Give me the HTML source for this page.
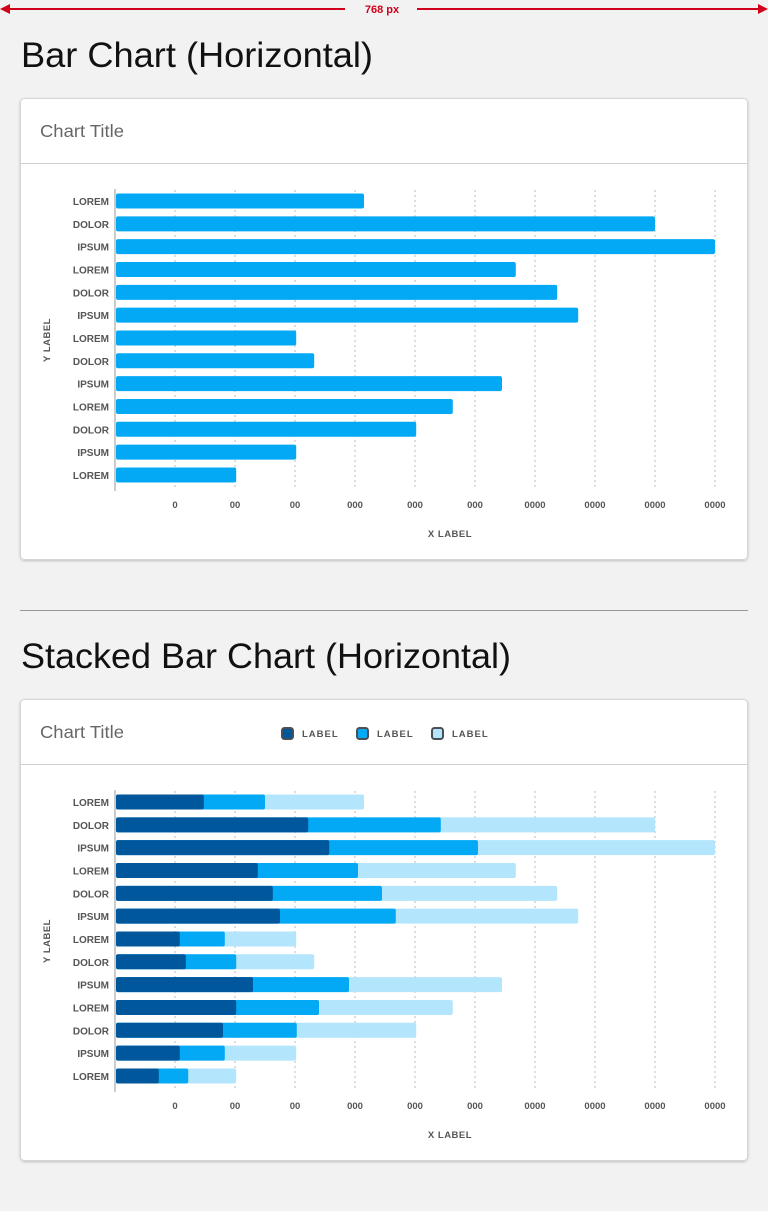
<!DOCTYPE html>
<html><head><meta charset="utf-8"><style>
html,body{margin:0;padding:0;background:#f2f2f2;}
svg{display:block;font-family:"Liberation Sans",sans-serif;}
</style></head><body>
<svg id="s" width="768" height="1211" viewBox="0 0 768 1211" xmlns="http://www.w3.org/2000/svg">
<defs><filter id="sh" x="-5%" y="-5%" width="110%" height="110%"><feDropShadow dx="0" dy="1" stdDeviation="1.2" flood-color="#000" flood-opacity="0.22"/></filter></defs>
<g>
<line x1="6" y1="9" x2="345" y2="9" stroke="#d0021b" stroke-width="2"/>
<line x1="417" y1="9" x2="762" y2="9" stroke="#d0021b" stroke-width="2"/>
<polygon points="0,9 10,4 10,14" fill="#d0021b"/>
<polygon points="768,9 758,4 758,14" fill="#d0021b"/>
<text x="382" y="13" text-anchor="middle" font-size="11" font-weight="bold" fill="#d0021b">768 px</text>
</g>
<text x="21" y="67" font-size="35" fill="#111" textLength="352" lengthAdjust="spacingAndGlyphs">Bar Chart (Horizontal)</text>
<line x1="20" y1="610.5" x2="748" y2="610.5" stroke="#999" stroke-width="1"/>
<text x="21" y="668" font-size="35" fill="#111" textLength="490" lengthAdjust="spacingAndGlyphs">Stacked Bar Chart (Horizontal)</text>
<g id="c1"></g>
<g id="c2"></g>
</svg>
<script>
const categories = ["LOREM","DOLOR","IPSUM","LOREM","DOLOR","IPSUM","LOREM","DOLOR","IPSUM","LOREM","DOLOR","IPSUM","LOREM"];
const barValues = [4.15,9.0,10,6.68,7.37,7.72,3.02,3.32,6.45,5.63,5.02,3.02,2.02];
const stackA = [1.48,3.22,3.57,2.38,2.63,2.75,1.08,1.18,2.3,2.02,1.8,1.08,0.73];
const stackB = [1.02,2.21,2.48,1.67,1.82,1.93,0.75,0.84,1.6,1.38,1.23,0.75,0.49];
const stackC = [1.65,3.57,3.95,2.63,2.92,3.04,1.19,1.3,2.55,2.23,1.99,1.19,0.8];
const tickLabels = ["0","00","00","000","000","000","0000","0000","0000","0000"];
const seriesNames = ["LABEL","LABEL","LABEL"];
const colors = ["#01579b","#03a9f4","#b3e5fc"];
const NS = "http://www.w3.org/2000/svg";
function el(tag, attrs, parent, txt){const e=document.createElementNS(NS,tag);for(const k in attrs)e.setAttribute(k,attrs[k]);if(txt!==undefined)e.textContent=txt;parent.appendChild(e);return e;}
const x0=115, unit=60;
function xs(v){return x0+v*unit;}
function drawCard(g, oy, stacked){
  const card=el('rect',{x:20.5,y:oy+98.5,width:727,height:461,rx:4,fill:'#fff',stroke:'#d6d6d6',filter:'url(#sh)'},g);
  
  
  const hl=el('line',{x1:21,y1:oy+163.5,x2:747,y2:oy+163.5,stroke:'#d0d0d0'},g);
  
  
  const t=el('text',{x:40,y:oy+137,'font-size':17.5,fill:'#666',textLength:84,lengthAdjust:'spacingAndGlyphs'},g,'Chart Title');
  
  
  if(stacked){
    const lx=[281,356,431];
    seriesNames.forEach((n,i)=>{
      const r=el('rect',{x:lx[i]+1,y:oy+127,width:11,height:11,rx:2.5,fill:colors[i],stroke:'#4a4f57','stroke-width':2},g);
      
      
      const tx=el('text',{x:lx[i]+21,y:oy+136,'font-size':9.5,'font-weight':'bold','letter-spacing':'1',fill:'#555'},g,n);
      
      
    });
  }
  tickLabels.forEach((l,i)=>{
    const x=xs(i+1);
    const gl=el('line',{x1:x,y1:oy+190,x2:x,y2:oy+490,stroke:'#bbb','stroke-dasharray':'2,3'},g);
    
    
    const tl=el('text',{x:x,y:oy+508,'font-size':9.5,'font-weight':'bold','text-anchor':'middle',fill:'#555'},g,l);
    
    
  });
  const ax=el('line',{x1:x0,y1:oy+189,x2:x0,y2:oy+491,stroke:'#bbb','stroke-width':1.5},g);
  
  
  const step=22.83, h=15;
  categories.forEach((c,i)=>{
    const cy=oy+201+i*step;
    const lab=el('text',{x:109,y:cy+4,'font-size':10,'font-weight':'bold','text-anchor':'end',fill:'#555'},g,c);
    
    
    if(!stacked){
      const b=el('rect',{x:x0+1,y:cy-h/2,width:xs(barValues[i])-x0-1,height:h,rx:2,fill:'#03a9f4'},g);
      
      
    } else {
      const segs=[stackA[i],stackB[i],stackC[i]];
      let acc=0;
      const ends=[]; segs.forEach(v=>{acc+=v;ends.push(acc);});
      for(let k=2;k>=0;k--){
        const b=el('rect',{x:x0+1,y:cy-h/2,width:xs(ends[k])-x0-1,height:h,rx:2,fill:colors[k]},g);
        
        
      }
    }
  });
  const xl=el('text',{x:450,y:oy+537,'font-size':9.5,'font-weight':'bold','text-anchor':'middle',fill:'#555','letter-spacing':'0.5'},g,'X LABEL');
  
  
  const yl=el('text',{x:0,y:0,'font-size':9.5,'font-weight':'bold','text-anchor':'middle',fill:'#555','letter-spacing':'0.5',transform:`translate(50,${oy+340}) rotate(-90)`},g,'Y LABEL');
  
  
}
const g1=document.getElementById('c1');


const g2=document.getElementById('c2');


drawCard(g1,0,false);
drawCard(g2,601,true);
</script>
</body></html>
